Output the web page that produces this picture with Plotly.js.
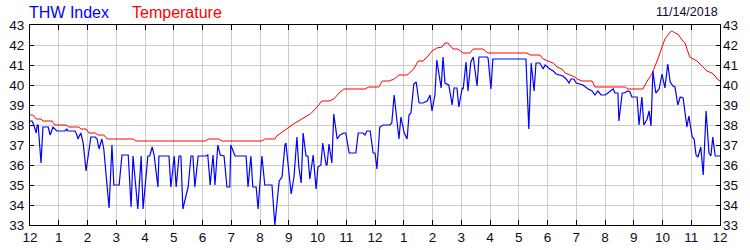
<!DOCTYPE html>
<html><head><meta charset="utf-8">
<script src="https://cdn.plot.ly/plotly-3.0.1.min.js"></script>
<style>html,body{margin:0;padding:0;background:#fff}#chart{width:750px;height:250px}</style>
</head><body><div id="chart"></div>
<script>
// time in minutes since midnight
const thwMinutes = [0,4,8,13,15,17,23,27,38,42,48,52,56,73,77,79,94,98,100,106,111,117,121,127,136,140,144,150,154,165,171,175,186,192,205,211,215,225,232,236,246,250,255,259,267,269,290,294,301,305,311,315,319,330,336,340,344,351,367,371,376,382,386,392,397,405,411,417,419,428,451,455,461,465,472,476,484,490,505,511,520,526,532,534,545,551,557,561,566,570,576,580,584,591,597,601,607,611,614,618,620,624,630,634,641,647,655,659,666,680,685,695,699,703,710,716,720,724,730,737,751,755,760,766,770,774,781,787,791,795,801,806,812,820,829,835,839,845,849,858,862,866,874,881,885,891,895,902,904,910,914,920,925,933,937,954,956,962,966,1035,1041,1046,1052,1056,1064,1071,1075,1085,1092,1098,1106,1112,1119,1125,1129,1135,1140,1154,1165,1173,1179,1185,1192,1200,1206,1217,1221,1227,1229,1236,1240,1248,1252,1256,1267,1271,1277,1281,1288,1292,1296,1300,1306,1313,1319,1325,1331,1336,1342,1346,1352,1357,1363,1365,1371,1375,1382,1386,1390,1394,1400,1405,1411,1417,1421,1425,1430,1440];
const thwIndex = [38.2,38.2,38.0,37.6,38.0,38.0,36.1,37.9,37.9,37.5,37.9,37.8,37.7,37.7,37.8,37.7,37.7,37.5,37.3,37.6,37.1,35.7,36.5,37.4,37.4,37.3,36.8,37.3,36.8,33.85,37.0,35.0,35.0,36.5,36.5,33.9,36.45,33.8,36.45,33.8,36.45,36.45,36.9,36.5,34.9,36.45,36.45,34.9,36.45,34.9,36.45,36.45,33.8,34.9,36.45,36.45,34.9,36.45,36.45,36.5,35.0,36.5,35.0,37.0,36.5,36.45,34.9,34.9,37.0,36.45,36.45,34.9,36.45,34.9,34.9,33.8,36.45,35.0,35.0,33.0,35.2,35.4,37.0,37.1,34.55,35.4,37.4,35.9,35.1,37.6,36.45,36.45,35.3,36.5,34.8,35.9,36.0,37.1,36.6,36.0,36.0,37.05,36.1,38.55,37.3,37.5,37.6,37.6,36.6,36.6,37.6,37.6,37.5,37.7,37.7,36.6,36.6,35.8,37.9,38.0,38.0,38.1,39.5,38.35,37.3,38.4,37.6,37.3,38.5,38.6,40.05,40.15,39.1,39.1,39.2,39.5,38.7,39.5,41.25,39.85,41.4,40.1,40.0,39.0,39.85,39.85,38.9,39.85,39.8,41.15,39.7,41.15,41.4,39.95,41.4,41.4,41.35,39.8,41.3,41.3,37.8,41.1,39.7,41.1,41.1,40.8,41.0,40.8,40.7,40.55,40.5,40.45,40.3,40.1,40.3,40.3,40.1,40.0,39.8,39.7,39.5,39.7,39.5,39.5,39.6,39.8,39.6,39.6,38.2,39.6,39.6,39.7,39.65,39.4,39.4,38.0,39.4,38.0,38.3,38.7,37.95,40.7,39.6,39.8,40.55,39.85,41.05,40.15,39.95,39.9,39.0,39.4,39.35,39.0,37.9,38.45,37.4,37.3,36.5,36.4,36.9,35.5,38.7,36.6,36.45,37.4,36.45,36.45];

const tempMinutes = [0,6,13,23,27,46,52,75,81,102,106,117,123,136,142,154,161,215,221,367,371,394,401,484,490,511,515,526,536,551,566,586,599,609,624,634,647,655,699,707,728,735,749,760,770,787,801,810,820,829,839,849,860,866,872,883,893,904,918,925,945,956,1037,1044,1064,1071,1081,1092,1100,1110,1117,1127,1137,1142,1152,1173,1179,1242,1248,1279,1288,1298,1304,1311,1319,1325,1336,1340,1346,1352,1361,1367,1371,1377,1392,1402,1413,1423,1430,1434,1440];
const temperature = [38.5,38.5,38.3,38.3,38.2,38.2,38.0,38.0,37.9,37.9,37.8,37.8,37.6,37.6,37.5,37.5,37.3,37.3,37.2,37.2,37.3,37.3,37.2,37.2,37.3,37.3,37.45,37.65,37.8,38.07,38.28,38.57,38.9,39.2,39.2,39.3,39.65,39.8,39.8,39.9,39.9,40.2,40.2,40.3,40.5,40.5,40.8,41.2,41.2,41.4,41.7,41.85,41.9,42.1,42.1,41.8,41.8,41.6,41.6,41.8,41.8,41.6,41.6,41.5,41.5,41.3,41.2,41.1,40.9,40.8,40.6,40.5,40.4,40.3,40.2,40.2,39.9,39.9,39.8,39.8,40.2,40.55,40.9,41.35,41.9,42.3,42.65,42.7,42.6,42.55,42.25,42.1,41.8,41.4,41.2,40.95,40.7,40.6,40.45,40.3,40.2];

const hourTicks = [0,60,120,180,240,300,360,420,480,540,600,660,720,780,840,900,960,1020,1080,1140,1200,1260,1320,1380,1440];
const hourLabels = ["12","1","2","3","4","5","6","7","8","9","10","11","12","1","2","3","4","5","6","7","8","9","10","11","12"];
const yTicks = [33,34,35,36,37,38,39,40,41,42,43];
const seriesNames = ["THW Index","Temperature"];
const dateLabel = "11/14/2018";

const font = "Liberation Sans, Arial, sans-serif";
const txt = "#0a0a28";

const traces = [
  {x: tempMinutes, y: temperature, type:'scatter', mode:'lines', name: seriesNames[1],
   line:{color:'#ff0000', width:1}, hoverinfo:'skip'},
  {x: thwMinutes, y: thwIndex, type:'scatter', mode:'lines', name: seriesNames[0],
   line:{color:'#0000ff', width:1.2}, hoverinfo:'skip'},
  {x:[0], y:[33], yaxis:'y2', type:'scatter', mode:'markers', marker:{opacity:0}, showlegend:false, hoverinfo:'skip'}
];

const layout = {
  width:750, height:250,
  margin:{l:30, r:30, t:25, b:25, pad:0},
  paper_bgcolor:'#fff', plot_bgcolor:'#fff',
  showlegend:false,
  font:{family:font, color:txt, size:13},
  xaxis:{range:[0,1440], tickmode:'array', tickvals:hourTicks, ticktext:hourLabels,
    showgrid:true, gridcolor:'#cccccc', gridwidth:1, zeroline:false,
    showline:true, linecolor:'#000', linewidth:1, mirror:'ticks',
    ticks:'inside', ticklen:5, tickcolor:'#000', tickfont:{size:13.5, color:txt, family:font}},
  yaxis:{range:[33,43], tickmode:'array', tickvals:yTicks,
    showgrid:true, gridcolor:'#cccccc', gridwidth:1, zeroline:false,
    showline:true, linecolor:'#000', linewidth:1, mirror:'ticks',
    ticks:'inside', ticklen:4, tickcolor:'#000', tickfont:{size:13.5, color:txt, family:font},
    ticklabelstandoff:2},
  yaxis2:{range:[33,43], overlaying:'y', side:'right', matches:'y', tickmode:'array', tickvals:yTicks,
    showgrid:false, zeroline:false, showline:false, ticks:'', tickfont:{size:13.5, color:txt, family:font},
    ticklabelstandoff:2},
  annotations:[
    {xref:'paper', yref:'paper', x:-0.004, y:1.0, yshift:23, xanchor:'left', yanchor:'top', showarrow:false,
     text:seriesNames[0], font:{family:font, size:16, color:'#0000ff'}},
    {xref:'paper', yref:'paper', x:0.145, y:1.0, yshift:23, xanchor:'left', yanchor:'top', showarrow:false,
     text:seriesNames[1], font:{family:font, size:16, color:'#ff0000'}},
    {xref:'paper', yref:'paper', x:1.0, y:1.0, yshift:22, xanchor:'right', yanchor:'top', showarrow:false,
     text:dateLabel, font:{family:font, size:12.5, color:txt}}
  ]
};

Plotly.newPlot('chart', traces, layout, {staticPlot:true, displayModeBar:false});
</script></body></html>
